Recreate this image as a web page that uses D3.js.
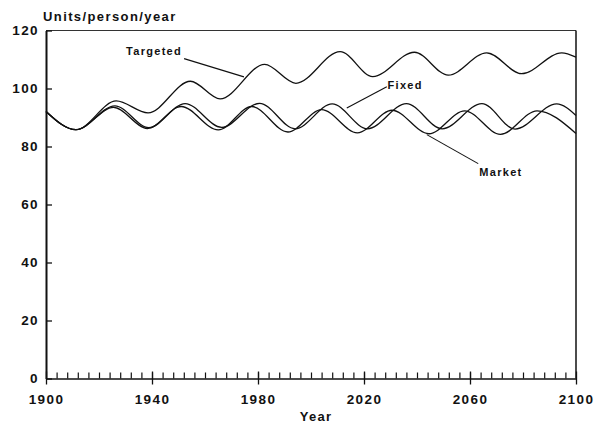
<!DOCTYPE html>
<html>
<head>
<meta charset="utf-8">
<style>
    body { margin: 0; background: #fff; }
    svg { display: block; background: #fff; }
    text { font-family: "Liberation Sans", Arial, sans-serif; font-weight: bold; fill: #111; }
</style>
</head>
<body>
    <div class="container"></div>
    <script src="https://d3js.org/d3.v7.min.js"></script>
    <script>
        // values (peaks and troughs of each run)
        var targetedYears = [1900, 1911.3, 1926.5, 1938.5, 1954.5, 1965.7, 1982.5, 1994.3, 2011, 2023.3, 2039, 2051.8, 2066.3, 2079.5, 2094.6, 2100];
        var targetedValues = [92.1, 85.8, 95.7, 91.6, 102.5, 96.4, 108.3, 101.8, 112.7, 104.1, 112.5, 104.6, 112.3, 105.1, 112.3, 110.8];

        var fixedYears = [1900, 1911.3, 1926, 1938.8, 1952.5, 1966.3, 1980.6, 1994, 2008, 2021.3, 2036, 2049.5, 2064.5, 2077, 2092.7, 2100];
        var fixedValues = [92.1, 85.8, 94.0, 86.5, 94.8, 86.6, 94.9, 86.1, 94.7, 86.1, 94.8, 86.1, 94.8, 86.0, 94.7, 90.7];

        var marketYears = [1900, 1911.3, 1925.5, 1938.3, 1951, 1965, 1977.6, 1991.3, 2004, 2017.5, 2030.6, 2044.5, 2058, 2071.5, 2085.3, 2100];
        var marketValues = [92.1, 85.8, 93.5, 86.2, 93.8, 85.7, 93.8, 85.0, 92.7, 84.7, 92.5, 84.4, 92.3, 84.2, 92.3, 84.5];

        var yTicks = [0, 20, 40, 60, 80, 100, 120];
        var xMajorTicks = [1900, 1940, 1980, 2020, 2060, 2100];
        var xMinorTicks = d3.range(1904, 2100, 4);

        // label text, label anchor (year, value) and pointer end (year, value)
        var labelNames = ["Targeted", "Fixed", "Market"];
        var labelAt = [[1930.2, 111.4], [2028.9, 99.7], [2063.5, 70.0]];
        var pointerFrom = [[1952.1, 110.3], [2028.6, 100.6], [2063.1, 74.1]];
        var pointerTo = [[1974.7, 104.0], [2013.5, 93.3], [2043.7, 84.1]];

        var W = 595, H = 425;
        var svg = d3.select('.container')
                    .append('svg')
                    .attr('width', W)
                    .attr('height', H);

        var x = d3.scaleLinear().domain([1900, 2100]).range([46, 576]);
        var y = d3.scaleLinear().domain([0, 120]).range([378.5, 30.5]);

        // frame: top and right sides
        svg.append('line')
           .attr('x1', x(1900)).attr('x2', x(2100))
           .attr('y1', y(120)).attr('y2', y(120))
           .attr('stroke', '#333').attr('stroke-width', 1);
        svg.append('line')
           .attr('x1', x(2100)).attr('x2', x(2100))
           .attr('y1', y(120)).attr('y2', y(0))
           .attr('stroke', '#111').attr('stroke-width', 1.5);

        // y axis, ticks pointing inward
        var yAxis = svg.append('g')
                       .attr('transform', 'translate(' + x(1900) + ',0)')
                       .call(d3.axisLeft(y).tickValues(yTicks).tickSize(-6).tickPadding(7).tickSizeOuter(0));
        yAxis.select('.domain').attr('stroke', '#111').attr('stroke-width', 2);
        yAxis.selectAll('.tick line').attr('stroke', '#111').attr('stroke-width', 1.3);
        yAxis.selectAll('text')
             .style('font-size', '13.5px').style('letter-spacing', '1.4px')
             .attr('fill', '#111');

        // x axis: small upward ticks every 4 years
        var xMinor = svg.append('g')
                        .attr('transform', 'translate(0,' + y(0) + ')')
                        .call(d3.axisBottom(x).tickValues(xMinorTicks).tickSize(-6).tickFormat('').tickSizeOuter(0));
        xMinor.select('.domain').remove();
        xMinor.selectAll('.tick line').attr('stroke', '#111').attr('stroke-width', 1.2);

        // x axis: major ticks crossing the axis, with labels
        var xAxis = svg.append('g')
                       .attr('transform', 'translate(0,' + y(0) + ')')
                       .call(d3.axisBottom(x).tickValues(xMajorTicks).tickSize(6).tickPadding(10)
                               .tickFormat(d3.format('d')).tickSizeOuter(0));
        xAxis.select('.domain').attr('stroke', '#111').attr('stroke-width', 1.6);
        xAxis.selectAll('.tick line').attr('stroke', '#111').attr('stroke-width', 1.3)
             .attr('y1', -7);
        xAxis.selectAll('text')
             .style('font-size', '13.5px').style('letter-spacing', '1.4px')
             .attr('fill', '#111');

        // axis titles
        svg.append('text')
           .attr('x', 43).attr('y', 20.5)
           .style('font-size', '13px').style('letter-spacing', '1.4px')
           .text('Units/person/year');
        svg.append('text')
           .attr('x', 316).attr('y', 421)
           .attr('text-anchor', 'middle')
           .style('font-size', '13px').style('letter-spacing', '1.3px')
           .text('Year');

        // the three runs
        var series = [
            d3.zip(targetedYears, targetedValues),
            d3.zip(fixedYears, fixedValues),
            d3.zip(marketYears, marketValues)
        ];
        var line = d3.line()
                     .x(function(d) { return x(d[0]); })
                     .y(function(d) { return y(d[1]); })
                     .curve(d3.curveMonotoneX);
        svg.selectAll('path.run')
           .data(series)
           .enter()
           .append('path')
           .attr('class', 'run')
           .attr('d', line)
           .attr('fill', 'none')
           .attr('stroke', '#111')
           .attr('stroke-width', 1.3);

        // labels with pointer lines
        svg.selectAll('line.pointer')
           .data(labelNames)
           .enter()
           .append('line')
           .attr('class', 'pointer')
           .attr('x1', function(d, i) { return x(pointerFrom[i][0]); })
           .attr('y1', function(d, i) { return y(pointerFrom[i][1]); })
           .attr('x2', function(d, i) { return x(pointerTo[i][0]); })
           .attr('y2', function(d, i) { return y(pointerTo[i][1]); })
           .attr('stroke', '#111')
           .attr('stroke-width', 1.1);
        svg.selectAll('text.label')
           .data(labelNames)
           .enter()
           .append('text')
           .attr('class', 'label')
           .attr('x', function(d, i) { return x(labelAt[i][0]); })
           .attr('y', function(d, i) { return y(labelAt[i][1]); })
           .style('font-size', '11px').style('letter-spacing', '1.3px')
           .text(function(d) { return d; });
    </script>
</body>
</html>
